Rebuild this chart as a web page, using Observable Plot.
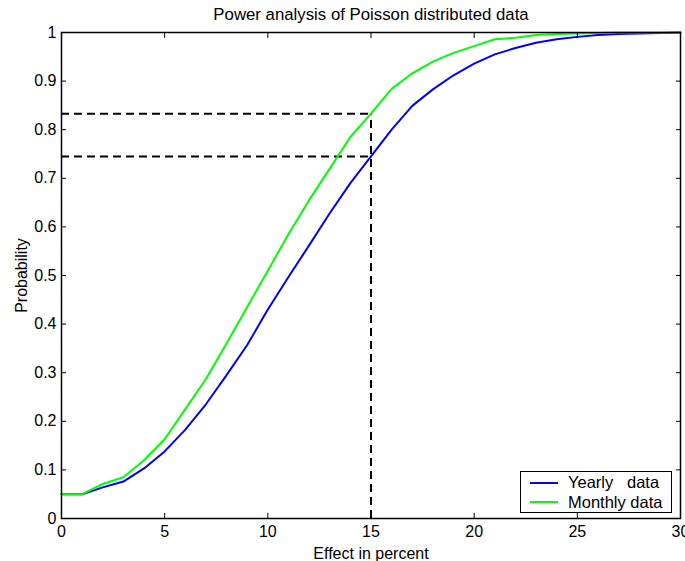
<!DOCTYPE html>
<html>
<head>
<meta charset="utf-8">
<script src="https://cdn.jsdelivr.net/npm/d3@7"></script>
<script src="https://cdn.jsdelivr.net/npm/@observablehq/plot@0.6"></script>
<style>
  html, body { margin: 0; padding: 0; background: #fff; }
  #wrap { position: relative; width: 685px; height: 561px; font-family: "Liberation Sans", Arial, sans-serif; }
  #legend { position: absolute; left: 520px; top: 471px; width: 150px; height: 40px; border: 1px solid #000; background: #fff; font-size: 16.5px; color: #000; }
  .item { position: absolute; left: 9px; white-space: pre; line-height: 19px; }
  .swatch { display: inline-block; width: 28px; height: 2px; vertical-align: middle; margin-right: 10px; position: relative; top: -1px; }
</style>
</head>
<body>
<div id="wrap"></div>
<script>
const title = "Power analysis of Poisson distributed data";
const xLabel = "Effect in percent";
const yLabel = "Probability";
const seriesNames = ["Yearly   data", "Monthly data"];
const seriesColors = ["#0000ff", "#00ff00"];

const effect = d3.range(0, 31); // 0..30 percent
const yearly = [0.05, 0.05, 0.064, 0.076, 0.103, 0.138, 0.183, 0.235, 0.295, 0.357,
  0.43, 0.497, 0.562, 0.628, 0.69, 0.745, 0.8, 0.849, 0.883, 0.912,
  0.936, 0.955, 0.968, 0.979, 0.986, 0.991, 0.995, 0.997, 0.998, 0.999, 1.0];
const monthly = [0.05, 0.05, 0.071, 0.085, 0.12, 0.163, 0.225, 0.287, 0.36, 0.435,
  0.51, 0.585, 0.655, 0.72, 0.785, 0.833, 0.884, 0.916, 0.94, 0.958,
  0.972, 0.986, 0.989, 0.995, 0.997, 0.998, 0.999, 1.0, 1.0, 1.0, 1.0];

const xTicks = [0, 5, 10, 15, 20, 25, 30];
const yTicks = [0, 0.1, 0.2, 0.3, 0.4, 0.5, 0.6, 0.7, 0.8, 0.9, 1];
const markEffect = 15;

const rows = [];
effect.forEach((e, i) => {
  rows.push({effect: e, p: yearly[i], series: seriesNames[0]});
  rows.push({effect: e, p: monthly[i], series: seriesNames[1]});
});
const idx = effect.indexOf(markEffect);
const levels = [monthly[idx], yearly[idx]];

const chart = Plot.plot({
  width: 685,
  height: 561,
  marginLeft: 61,
  marginRight: 5,
  marginTop: 32,
  marginBottom: 43,
  style: {fontFamily: "'Liberation Sans', Arial, sans-serif", fontSize: "16px", color: "#000", background: "#fff"},
  x: {domain: [0, 30]},
  y: {domain: [0, 1]},
  color: {domain: seriesNames, range: seriesColors},
  marks: [
    Plot.ruleY(levels, {y: d => d, x1: 0, x2: markEffect, stroke: "#000", strokeWidth: 2, strokeDasharray: "8,5"}),
    Plot.ruleX([markEffect], {x: d => d, y1: 0, y2: levels[0], stroke: "#000", strokeWidth: 2, strokeDasharray: "8,5"}),
    Plot.line(rows, {x: "effect", y: "p", stroke: "series", z: "series", strokeWidth: 2}),
    Plot.frame({stroke: "#000", strokeWidth: 1.5}),
    Plot.axisX(xTicks, {anchor: "bottom", tickSize: -5, tickFormat: () => "", label: null, stroke: "#000"}),
    Plot.axisX(xTicks, {anchor: "top", tickSize: -5, tickFormat: () => "", label: null, stroke: "#000"}),
    Plot.axisY(yTicks, {anchor: "left", tickSize: -5, tickFormat: () => "", label: null, stroke: "#000"}),
    Plot.axisY(yTicks, {anchor: "right", tickSize: -5, tickFormat: () => "", label: null, stroke: "#000"}),
    Plot.axisX(xTicks, {anchor: "bottom", tickSize: 0, tickPadding: 7, tickFormat: d => String(d), label: xLabel, labelAnchor: "center", labelArrow: "none", labelOffset: 40, fontSize: 16, fill: "#000"}),
    Plot.axisY(yTicks, {anchor: "left", tickSize: 0, tickPadding: 5, tickFormat: d => String(d), label: yLabel, labelAnchor: "center", labelArrow: "none", labelOffset: 46, fontSize: 16, fill: "#000"}),
    Plot.text([title], {text: d => d, frameAnchor: "top", dy: -18, lineAnchor: "middle", fontSize: 16.8, fill: "#000"})
  ]
});
const wrap = document.getElementById("wrap");
wrap.appendChild(chart);

const legend = document.createElement("div");
legend.id = "legend";
seriesNames.forEach((name, i) => {
  const it = document.createElement("div");
  it.className = "item";
  it.style.top = (1 + i * 19.5) + "px";
  const sw = document.createElement("span");
  sw.className = "swatch";
  sw.style.background = seriesColors[i];
  it.appendChild(sw);
  it.appendChild(document.createTextNode(name));
  legend.appendChild(it);
});
wrap.appendChild(legend);
</script>
</body>
</html>
